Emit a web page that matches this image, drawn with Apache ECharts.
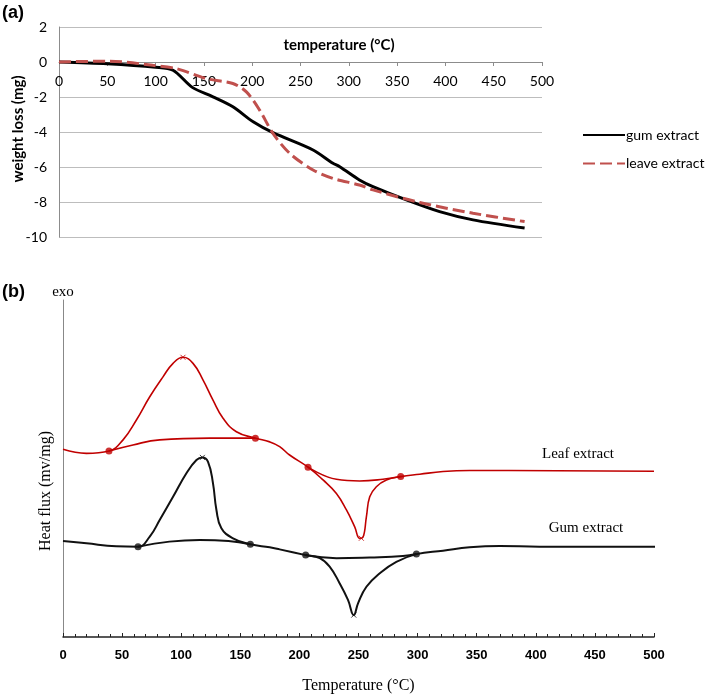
<!DOCTYPE html>
<html><head><meta charset="utf-8">
<script src="https://cdn.jsdelivr.net/npm/echarts@6/dist/echarts.min.js"></script>
<style>html,body{margin:0;padding:0;background:#fff}#c{width:707px;height:695px}</style>
</head><body><div id="c"></div>
<script>
// ---- Panel (a) TGA data ----
const gumTgaT = [0, 50, 100, 118, 138, 159.4, 180, 201, 221.5, 263, 283.6, 290.6, 311, 325, 359.6, 394, 428.6, 482];
const gumTgaW = [0, -0.1, -0.3, -0.47, -1.45, -1.99, -2.56, -3.42, -4.04, -5.03, -5.79, -5.98, -6.74, -7.12, -7.88, -8.55, -9.02, -9.49];
const leafTgaT = [0, 52.5, 97, 121.5, 152.5, 180, 194, 207.7, 221.5, 238.8, 263, 283.6, 311, 325, 373.4, 428.6, 482];
const leafTgaW = [0, 0.05, -0.19, -0.38, -0.95, -1.23, -1.71, -2.75, -4.08, -5.22, -6.17, -6.65, -7.03, -7.31, -8.03, -8.64, -9.12];
const tgaYTicks = [-10, -8, -6, -4, -2, 0, 2];
const tempTicks = [0, 50, 100, 150, 200, 250, 300, 350, 400, 450, 500];

// ---- Panel (b) DSC data (arbitrary heat-flux units) ----
const leafDscT = [0, 19.8, 38.9, 50.8, 62.1, 73.4, 84.6, 93.1, 101.5, 110, 118.4, 126.9, 135.4, 146.7, 162.8, 174.9, 183.3, 191.7, 207.3, 220, 231.3, 239.8, 246.8, 251, 253.8, 256.7, 259.5, 265.1, 273.6, 285.7, 301.8, 321.5, 344, 500];
const leafDscV = [55.7, 54.5, 55.2, 58.5, 64.4, 71.3, 77.2, 81.2, 83.0, 81.2, 76.3, 70.3, 64.9, 60.9, 59.0, 57.9, 56.5, 54.0, 50.4, 46.6, 42.6, 37.7, 32.7, 29.3, 29.6, 35.7, 41.6, 44.6, 46.6, 47.6, 48.3, 49.1, 49.4, 49.2];
const leafBase1T = [38.9, 59.2, 81.8, 124, 162.8];
const leafBase1V = [55.2, 57.0, 58.5, 59.0, 59.0];
const leafBase2T = [207.3, 231.3, 251, 270.7, 285.7];
const leafBase2V = [50.4, 46.8, 46.3, 46.8, 47.6];
const leafMarkT = [38.9, 162.8, 207.3, 285.7];
const leafMarkV = [55.2, 59.0, 50.4, 47.6];
const leafPeakT = [101.5, 252.4];
const leafPeakV = [83.0, 29.3];

const gumDscT = [0, 19.8, 45, 63.5, 73.4, 81.8, 93.1, 104.4, 112.9, 117.9, 122.7, 126.9, 129.8, 134, 143.8, 158.5, 174.9, 183.3, 205.3, 217.2, 225.6, 234.1, 241.1, 246, 249.6, 256.7, 268, 282, 299, 321.5, 344, 369.5, 403, 507];
const gumDscV = [28.5, 27.8, 26.9, 26.8, 29.8, 34.7, 41.6, 48.6, 52.5, 53.3, 52.0, 45.6, 37.7, 32.3, 29.3, 27.5, 26.6, 26.0, 24.3, 23.4, 20.9, 15.9, 11.0, 6.5, 10.0, 14.9, 18.9, 22.3, 24.6, 25.6, 26.6, 27.0, 26.8, 26.8];
const gumBase1T = [63.5, 90, 115.7, 140, 158.5];
const gumBase1V = [26.8, 28.3, 28.8, 28.5, 27.5];
const gumBase2T = [205.3, 231.3, 259.5, 287.6, 299];
const gumBase2V = [24.3, 23.4, 23.6, 24.0, 24.6];
const gumMarkT = [63.5, 158.5, 205.3, 299];
const gumMarkV = [26.8, 27.5, 24.3, 24.6];
const gumPeakT = [117.9, 246];
const gumPeakV = [53.3, 6.5];

const zip = (a, b) => a.map((x, i) => [x, b[i]]);
const RED = '#c00000', BLK = '#111111', XL_RED = '#c0504d';
const sans = 'Lato', serif = 'Liberation Serif';

const dscLine = (name, t, v, color, width, extra) => Object.assign({
  name, type: 'line', xAxisIndex: 1, yAxisIndex: 1, data: zip(t, v),
  smooth: 0.45, symbol: 'none', lineStyle: {color, width}
}, extra || {});
const cross = 'path://M0,0L10,10M10,0L0,10';

const chart = echarts.init(document.getElementById('c'), null, {renderer: 'canvas'});
chart.setOption({
  backgroundColor: '#fff',
  animation: false,
  grid: [
    {left: 59, right: 165, top: 27, height: 210, outerBoundsMode: 'none'},
    {left: 63, right: 53, top: 300, bottom: 58, outerBoundsMode: 'none'}
  ],
  legend: {
    data: ['gum extract', 'leave extract'],
    orient: 'vertical', left: 577, top: 123,
    itemWidth: 42, itemHeight: 14, itemGap: 14.6,
    itemStyle: {opacity: 0},
    textStyle: {fontFamily: sans, fontSize: 14, color: '#000', padding: [0, 0, 0, -4]},
    selectedMode: false
  },
  xAxis: [
    {gridIndex: 0, type: 'value', min: 0, max: 500, interval: 50, position: 'bottom', offset: -175,
     axisLine: {onZero: false, lineStyle: {color: '#8c8c8c', width: 1}},
     axisTick: {show: true, length: 4, lineStyle: {color: '#8c8c8c'}},
     axisLabel: {fontFamily: sans, fontSize: 14, color: '#000', margin: 12,
       formatter: v => tempTicks.includes(v) ? String(v) : ''},
     splitLine: {show: false}},
    {gridIndex: 1, type: 'value', min: 0, max: 500, interval: 50,
     axisLine: {onZero: false, lineStyle: {color: '#222', width: 1.5}},
     axisTick: {show: true, inside: true, length: 4, lineStyle: {color: '#222'}},
     minorTick: {show: true, splitNumber: 5, length: 3, lineStyle: {color: '#222'}},
     axisLabel: {fontFamily: 'Liberation Sans', fontWeight: 'bold', fontSize: 13, color: '#000', margin: 12},
     splitLine: {show: false},
     name: 'Temperature (°C)', nameLocation: 'middle', nameGap: 41,
     nameTextStyle: {fontFamily: serif, fontSize: 16, color: '#000'}}
  ],
  yAxis: [
    {gridIndex: 0, type: 'value', min: -10, max: 2, interval: 2,
     axisLine: {show: true, onZero: false, lineStyle: {color: '#8c8c8c'}},
     axisTick: {show: false},
     axisLabel: {fontFamily: sans, fontSize: 14, color: '#000', margin: 12,
       formatter: v => tgaYTicks.includes(v) ? String(v) : ''},
     splitLine: {show: true, lineStyle: {color: '#bdbdbd', width: 1}}},
    {gridIndex: 1, type: 'value', min: 0, max: 100,
     axisLine: {show: true, onZero: false, lineStyle: {color: '#888', width: 1}},
     axisTick: {show: false}, axisLabel: {show: false}, splitLine: {show: false}}
  ],
  series: [
    {name: 'gum extract', type: 'line', xAxisIndex: 0, yAxisIndex: 0, data: zip(gumTgaT, gumTgaW),
     smooth: 0.3, symbol: 'none', lineStyle: {color: '#000', width: 3}, itemStyle: {color: '#000'}, z: 3},
    {name: 'leave extract', type: 'line', xAxisIndex: 0, yAxisIndex: 0, data: zip(leafTgaT, leafTgaW),
     smooth: 0.3, symbol: 'none', lineStyle: {color: XL_RED, width: 3, type: [12, 5]}, itemStyle: {color: XL_RED}, z: 4},

    dscLine('leafDSC', leafDscT, leafDscV, RED, 1.6),
    dscLine('leafBase1', leafBase1T, leafBase1V, RED, 1.6),
    dscLine('leafBase2', leafBase2T, leafBase2V, RED, 1.6),
    {name: 'leafMarks', type: 'scatter', xAxisIndex: 1, yAxisIndex: 1, data: zip(leafMarkT, leafMarkV),
     symbol: 'circle', symbolSize: 7, itemStyle: {color: RED}},
    {name: 'leafPeaks', type: 'scatter', xAxisIndex: 1, yAxisIndex: 1, data: zip(leafPeakT, leafPeakV),
     symbol: cross, symbolSize: 5, itemStyle: {color: 'none', borderColor: RED, borderWidth: 1}},

    dscLine('gumDSC', gumDscT, gumDscV, BLK, 2, {clip: false}),
    dscLine('gumBase1', gumBase1T, gumBase1V, BLK, 2),
    dscLine('gumBase2', gumBase2T, gumBase2V, BLK, 2),
    {name: 'gumMarks', type: 'scatter', xAxisIndex: 1, yAxisIndex: 1, data: zip(gumMarkT, gumMarkV),
     symbol: 'circle', symbolSize: 7, itemStyle: {color: BLK}},
    {name: 'gumPeaks', type: 'scatter', xAxisIndex: 1, yAxisIndex: 1, data: zip(gumPeakT, gumPeakV),
     symbol: cross, symbolSize: 5, itemStyle: {color: 'none', borderColor: BLK, borderWidth: 1}}
  ],
  graphic: [
    {type: 'text', left: 2, top: 4, style: {text: '(a)', font: 'bold 18px "Liberation Sans"', fill: '#000'}},
    {type: 'text', left: 2, top: 283, style: {text: '(b)', font: 'bold 18px "Liberation Sans"', fill: '#000'}},
    {type: 'text', x: 18, y: 129, rotation: Math.PI / 2, style: {text: 'weight loss (mg)', font: 'bold 15px Lato', fill: '#000', align: 'center', verticalAlign: 'middle'}},
    {type: 'text', x: 339, y: 45, style: {text: 'temperature (°C)', font: 'bold 15px Lato', fill: '#000', align: 'center', verticalAlign: 'middle'}},
    {type: 'text', x: 63, y: 292, style: {text: 'exo', font: '15px "Liberation Serif"', fill: '#000', align: 'center', verticalAlign: 'middle'}},
    {type: 'text', x: 46, y: 491, rotation: Math.PI / 2, style: {text: 'Heat flux (mv/mg)', font: '16px "Liberation Serif"', fill: '#000', align: 'center', verticalAlign: 'middle'}},
    {type: 'text', x: 578, y: 454, style: {text: 'Leaf extract', font: '15px "Liberation Serif"', fill: '#000', align: 'center', verticalAlign: 'middle'}},
    {type: 'text', x: 586, y: 528, style: {text: 'Gum extract', font: '15px "Liberation Serif"', fill: '#000', align: 'center', verticalAlign: 'middle'}}
  ]
});
</script></body></html>
